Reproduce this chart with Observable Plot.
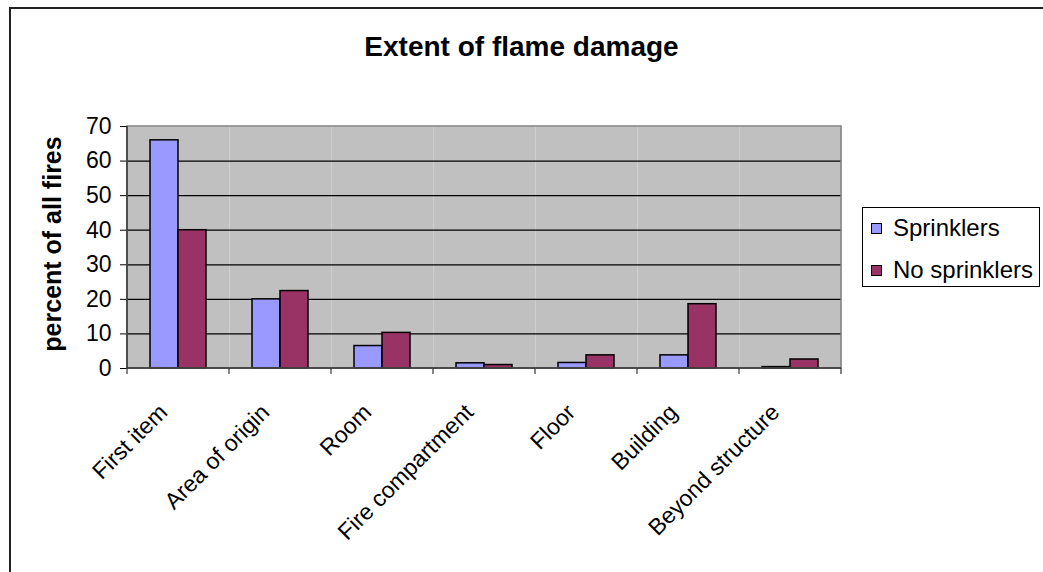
<!DOCTYPE html>
<html><head><meta charset="utf-8">
<script src="https://cdn.jsdelivr.net/npm/d3@7"></script>
<script src="https://cdn.jsdelivr.net/npm/@observablehq/plot@0.6"></script>
<style>
body{margin:0;background:#fff;font-family:"Liberation Sans",Arial,sans-serif;}
#wrap{position:relative;width:1043px;height:572px;overflow:hidden;}
#outer{position:absolute;left:9px;top:7px;width:1100px;height:700px;border-left:2px solid #222;border-top:2px solid #222;box-sizing:border-box;}
#title{position:absolute;left:0;width:1043px;top:31px;line-height:32px;text-align:center;font-weight:bold;font-size:28px;color:#000;}
#legend{position:absolute;left:862px;top:207px;width:178px;height:80px;border:1px solid #000;box-sizing:border-box;background:#fff;}
.item{position:absolute;left:8px;font-size:24px;line-height:28px;color:#000;white-space:nowrap;}
.sw{display:inline-block;width:9px;height:9px;border:1px solid #000;margin-right:11px;vertical-align:2px;}
svg{position:absolute;left:0;top:0;}
</style>
</head><body>
<div id="wrap"><div id="outer"></div><div id="title"></div><div id="legend"></div></div>
<script>
const categories = ["First item","Area of origin","Room","Fire compartment","Floor","Building","Beyond structure"];
const series = ["Sprinklers","No sprinklers"];
const sprinklers = [66, 20, 6.5, 1.5, 1.6, 3.8, 0.4];
const noSprinklers = [40, 22.4, 10.3, 1.0, 3.8, 18.6, 2.6];
const yTicks = [0, 10, 20, 30, 40, 50, 60, 70];
const colors = ["#9999ff", "#993366"];
const titleText = "Extent of flame damage";
const yLabel = "percent of all fires";

const data = categories.flatMap((c, i) => [
  {category: c, series: series[0], value: sprinklers[i]},
  {category: c, series: series[1], value: noSprinklers[i]}
]);

const font = '"Liberation Sans", Arial, sans-serif';
const plot = Plot.plot({
  width: 1043, height: 572,
  marginLeft: 127, marginRight: 202, marginTop: 126, marginBottom: 204,
  style: {fontFamily: font, fontSize: "23px", background: "transparent", color: "#000", overflow: "visible"},
  fx: {domain: categories, padding: 0, axis: null},
  x: {domain: series, paddingInner: 0, paddingOuter: 0.76, axis: null},
  y: {domain: [0, 70], ticks: yTicks, label: null, tickSize: 7, tickPadding: 9},
  color: {domain: series, range: colors},
  marks: [
    Plot.frame({fill: "#c0c0c0", stroke: null}),
    Plot.ruleY(yTicks.slice(1, -1), {stroke: "#000", strokeWidth: 1.2}),
    Plot.barY(data, {fx: "category", x: "series", y: "value", fill: "series", stroke: "#000", strokeWidth: 1.5}),
    Plot.text(categories, {fx: d => d, text: d => d, frameAnchor: "bottom", rotate: -45, textAnchor: "end", lineAnchor: "middle", dx: -15, dy: 40, fontSize: 23, fill: "#000"})
  ]
});

const svg = d3.select(plot);
const fx = plot.scale("fx"), y = plot.scale("y");
const y0 = y.apply(0), yTop = y.apply(70);
const xs = categories.map(c => fx.apply(c));
const x0 = xs[0], x1 = xs[xs.length - 1] + fx.bandwidth;
svg.append("rect").attr("x", x0).attr("y", yTop).attr("width", x1 - x0).attr("height", y0 - yTop)
  .attr("fill", "none").attr("stroke", "#808080").attr("stroke-width", 1.5);
svg.append("line").attr("x1", x0).attr("x2", x1).attr("y1", y0).attr("y2", y0).attr("stroke", "#333").attr("stroke-width", 1.5);
svg.append("line").attr("x1", x0).attr("x2", x0).attr("y1", yTop).attr("y2", y0).attr("stroke", "#333").attr("stroke-width", 1.5);
[...xs, x1].forEach(x => svg.append("line").attr("x1", x).attr("x2", x).attr("y1", y0).attr("y2", y0 + 6).attr("stroke", "#333").attr("stroke-width", 1.2));
svg.append("text").attr("transform", `translate(61,${(y0 + yTop) / 2 - 3}) rotate(-90)`)
  .attr("text-anchor", "middle").attr("font-weight", "bold").attr("font-size", 25)
  .attr("font-family", font).text(yLabel);

document.getElementById("wrap").appendChild(plot);
document.getElementById("title").textContent = titleText;
const legend = d3.select("#legend");
series.forEach((s, i) => {
  const it = legend.append("div").attr("class", "item").style("top", (6 + i * 42) + "px");
  it.append("span").attr("class", "sw").style("background", colors[i]);
  it.append("span").text(s);
});
</script>
</body></html>
